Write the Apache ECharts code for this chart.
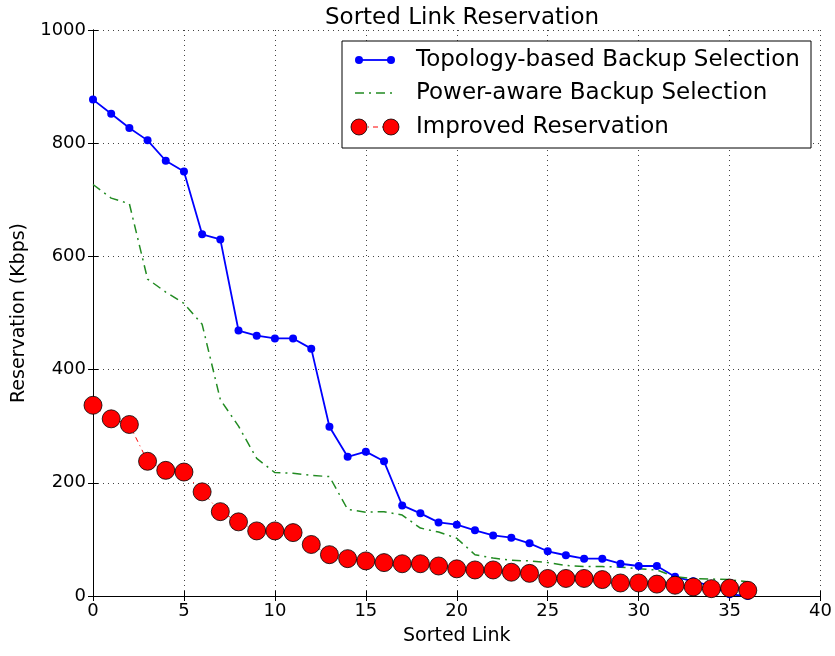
<!DOCTYPE html>
<html>
<head>
<meta charset="utf-8">
<script src="https://cdn.jsdelivr.net/npm/echarts@6/dist/echarts.min.js"></script>
<style>
  html, body { margin: 0; padding: 0; background: #fff; }
  #main { width: 835px; height: 656px; }
</style>
</head>
<body>
<div id="main"></div>
<script>
// data
var links = [];
for (var i = 0; i <= 36; i++) links.push(i);

var topology = [877, 852, 827, 805, 769, 750, 639, 630, 469, 460, 455, 455, 437,
  299, 246, 255, 238, 160, 146, 130, 126, 116, 107, 103, 93, 79, 72, 66, 66, 57,
  53, 53, 34, 26, 18, 3, 0];
var powerAware = [727, 703, 693, 560, 537, 517, 480, 347, 300, 243, 218, 217, 213,
  211, 153, 148, 149, 143, 120, 113, 102, 73, 67, 63, 62, 59, 54, 52, 52, 51,
  48, 46, 34, 31, 30, 29, 25];
var improved = [337, 313, 303, 238, 222, 219, 184, 149, 131, 115, 115, 112, 91,
  73, 66, 62, 59, 57, 57, 53, 48, 46, 46, 42, 40, 31, 31, 31, 29, 23,
  23, 21, 19, 16, 13, 14, 10];

var seriesNames = ['Topology-based Backup Selection', 'Power-aware Backup Selection', 'Improved Reservation'];

var xTicks = { min: 0, max: 40, interval: 5 };
var yTicks = { min: 0, max: 1000, interval: 200 };

function pairs(arr) {
  return arr.map(function (v, i) { return [links[i], v]; });
}

var font = 'DejaVu Sans';
var blue = '#0000ff', green = '#228b22', red = '#ff0000';
var greenDash = [9, 5, 2, 5], redDash = [5, 4, 1, 4];

var myChart = echarts.init(document.getElementById('main'));

var frameAxis = {
  axisLine: { show: true, lineStyle: { color: '#000', width: 1 } },
  axisTick: { show: true, inside: true, length: 5, lineStyle: { color: '#000' } },
  splitLine: { show: false },
  axisLabel: { show: false }
};

// legend drawn like the matplotlib one (two markers per sample)
var lg = { x: 342, y: 41, w: 469, h: 107, x0: 359, x1: 391, tx: 416, rows: [60, 93, 127] };
var legendGraphics = [
  { type: 'rect', z: 100, shape: { x: lg.x, y: lg.y, width: lg.w, height: lg.h },
    style: { fill: '#fff', stroke: '#000', lineWidth: 1 } },
  { type: 'line', z: 101, shape: { x1: lg.x0, y1: lg.rows[0], x2: lg.x1, y2: lg.rows[0] },
    style: { stroke: blue, lineWidth: 1.8 } },
  { type: 'circle', z: 102, shape: { cx: lg.x0, cy: lg.rows[0], r: 4 }, style: { fill: blue } },
  { type: 'circle', z: 102, shape: { cx: lg.x1, cy: lg.rows[0], r: 4 }, style: { fill: blue } },
  { type: 'line', z: 101, shape: { x1: lg.x0 - 4, y1: lg.rows[1], x2: lg.x1 + 4, y2: lg.rows[1] },
    style: { stroke: green, lineWidth: 1.5, lineDash: greenDash } },
  { type: 'line', z: 101, shape: { x1: lg.x0, y1: lg.rows[2], x2: lg.x1, y2: lg.rows[2] },
    style: { stroke: red, lineWidth: 1, lineDash: redDash } },
  { type: 'circle', z: 102, shape: { cx: lg.x0, cy: lg.rows[2], r: 8 },
    style: { fill: red, stroke: '#000', lineWidth: 0.8 } },
  { type: 'circle', z: 102, shape: { cx: lg.x1, cy: lg.rows[2], r: 8 },
    style: { fill: red, stroke: '#000', lineWidth: 0.8 } }
];
seriesNames.forEach(function (name, i) {
  legendGraphics.push({
    type: 'text', z: 103, x: lg.tx, y: lg.rows[i],
    style: { text: name, fontFamily: font, fontSize: 23, fill: '#000', verticalAlign: 'middle' }
  });
});

option = {
  backgroundColor: '#fff',
  animation: false,
  title: {
    text: 'Sorted Link Reservation',
    left: 457,
    textAlign: 'center',
    top: 2,
    textStyle: { fontFamily: font, fontSize: 23, fontWeight: 'normal', color: '#000' }
  },
  grid: { left: 93, right: 13, top: 30, bottom: 60 },
  graphic: legendGraphics,
  xAxis: [{
    type: 'value',
    min: xTicks.min, max: xTicks.max, interval: xTicks.interval,
    name: 'Sorted Link',
    nameLocation: 'middle',
    nameGap: 31,
    nameTextStyle: { fontFamily: font, fontSize: 19, color: '#000' },
    axisLine: { show: true, lineStyle: { color: '#000', width: 1 } },
    axisTick: { show: true, inside: true, length: 5, lineStyle: { color: '#000' } },
    axisLabel: { fontFamily: font, fontSize: 18, color: '#000', margin: 6 },
    splitLine: { show: true, lineStyle: { color: '#444', type: [1, 4], width: 1 } }
  }, Object.assign({
    type: 'value', position: 'top',
    min: xTicks.min, max: xTicks.max, interval: xTicks.interval
  }, frameAxis)],
  yAxis: [{
    type: 'value',
    min: yTicks.min, max: yTicks.max, interval: yTicks.interval,
    name: 'Reservation (Kbps)',
    nameLocation: 'middle',
    nameGap: 64,
    nameTextStyle: { fontFamily: font, fontSize: 19, color: '#000' },
    axisLine: { show: true, lineStyle: { color: '#000', width: 1 } },
    axisTick: { show: true, inside: true, length: 5, lineStyle: { color: '#000' } },
    axisLabel: { fontFamily: font, fontSize: 18, color: '#000', margin: 7,
      formatter: function (v) { return String(v); } },
    splitLine: { show: true, lineStyle: { color: '#444', type: [1, 4], width: 1 } }
  }, Object.assign({
    type: 'value', position: 'right',
    min: yTicks.min, max: yTicks.max, interval: yTicks.interval
  }, frameAxis)],
  series: [
    {
      name: seriesNames[0],
      type: 'line',
      data: pairs(topology),
      symbol: 'circle',
      symbolSize: 8,
      lineStyle: { color: blue, width: 1.8 },
      itemStyle: { color: blue }
    },
    {
      name: seriesNames[1],
      type: 'line',
      data: pairs(powerAware),
      symbol: 'none',
      lineStyle: { color: green, width: 1.5, type: greenDash },
      itemStyle: { color: green }
    },
    {
      name: seriesNames[2],
      type: 'line',
      data: pairs(improved),
      symbol: 'circle',
      symbolSize: 18,
      lineStyle: { color: red, width: 1, type: redDash },
      itemStyle: { color: red, borderColor: '#000', borderWidth: 0.8 }
    }
  ]
};

myChart.setOption(option);
</script>
</body>
</html>
